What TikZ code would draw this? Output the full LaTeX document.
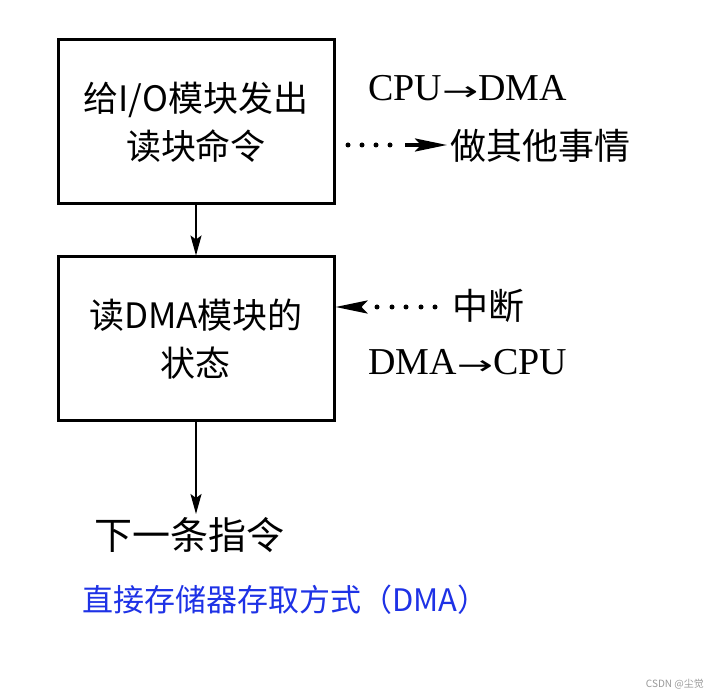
\documentclass[tikz,border=0pt]{standalone}
\usepackage{fontspec}
\setmainfont{Liberation Serif}
\newfontfamily\cjk{Noto Sans CJK SC}
\newfontfamily\arw{DejaVu Sans}
\newcommand{\myarrow}{{\arw\fontsize{24}{30}\selectfont\scalebox{1.8}[1.1]{→}}}
\usetikzlibrary{arrows.meta}
\begin{document}
\begin{tikzpicture}[x=1pt,y=-1pt,
  box/.style={draw,line width=3pt,minimum width=276pt,minimum height=164pt,inner sep=0pt,align=center,
    font=\cjk\fontsize{35}{48}\selectfont},
  lbl/.style={inner sep=0pt,anchor=west,font=\cjk\fontsize{36}{40}\selectfont},
  lat/.style={inner sep=0pt,anchor=west,font=\fontsize{38}{40}\selectfont},
  arr/.style={line width=2pt,-{Stealth[length=20pt,width=11pt,inset=4pt]}},
  dotc/.style={fill=black,circle,inner sep=0pt,minimum size=5pt},
  tip/.style={line width=3.5pt,-{Stealth[length=32pt,width=13pt,inset=6pt]}}]
\useasboundingbox (0,0) rectangle (718,700);
\fill[white] (0,0) rectangle (718,700);
\node[box] (b1) at (196,122) {给I/O模块发出\\读块命令};
\node[box] (b2) at (196,339) {读DMA模块的\\状态};
\draw[arr] (b1.south) -- (b2.north);
\node[lbl,anchor=center,font=\cjk\fontsize{38}{40}\selectfont] (next) at (189,535) {下一条指令};
\draw[arr] (b2.south) -- (196,514) coordinate (n1);
\node[lat] (c1) at (368,88) {CPU\myarrow DMA};
\node[lbl] (o1) at (450,146) {做其他事情};
\foreach \x in {348,362,376,390} \node[dotc] at (\x,145) {};
\coordinate (d1e) at (405,145);
\draw[tip] (d1e) -- (447,145);
\node[lbl] (i1) at (452,306) {中断};
\foreach \x in {377,392,406,421,435} \node[dotc] at (\x,307) {};
\coordinate (d2e) at (362,307);
\draw[tip] (d2e) -- (b2.east |- d2e);
\node[lat] (c2) at (368,362) {DMA\myarrow CPU};
\node[inner sep=0pt,anchor=west,text={rgb,255:red,30;green,50;blue,230},font=\cjk\fontsize{31}{34}\selectfont] (t) at (82,600) {直接存储器存取方式（DMA）};
\node[inner sep=0pt,anchor=east,text=gray!80,font=\cjk\fontsize{10}{12}\selectfont] (w) at (704,684) {CSDN @尘觉};
\end{tikzpicture}
\end{document}
